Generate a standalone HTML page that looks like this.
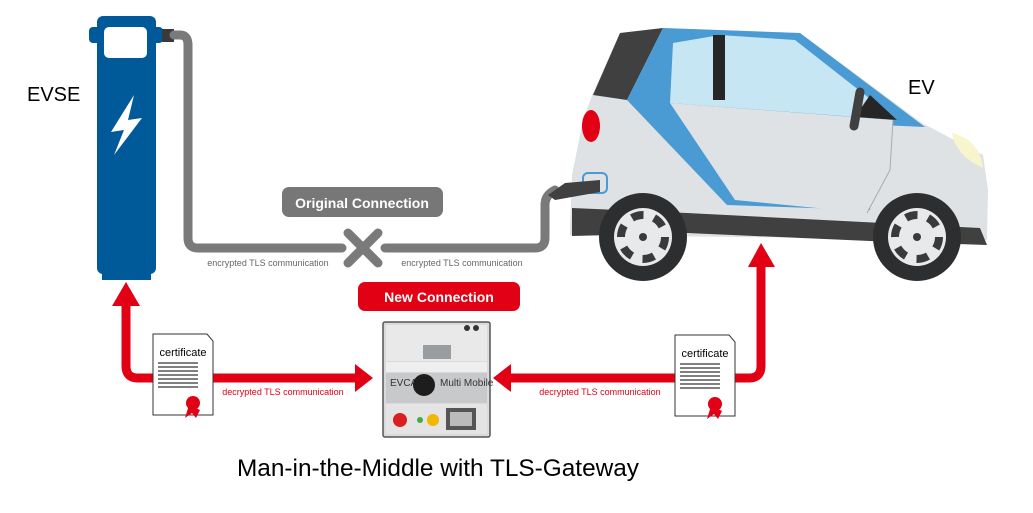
<!DOCTYPE html>
<html><head><meta charset="utf-8"><style>
html,body{margin:0;padding:0;background:#fff;}
svg{display:block;}
text{font-family:"Liberation Sans",sans-serif;}
</style></head><body>
<svg width="1033" height="513" viewBox="0 0 1033 513" xmlns="http://www.w3.org/2000/svg">
<!-- EVSE -->
<text x="27" y="101" font-size="20" fill="#000">EVSE</text>
<rect x="97" y="16" width="59" height="258" rx="6" fill="#005a9a"/>
<rect x="102" y="268" width="49" height="12" fill="#005a9a"/>
<rect x="89" y="27" width="74" height="16" rx="4" fill="#005a9a"/>
<rect x="104" y="27" width="43" height="31" rx="5" fill="#fff"/>
<polygon points="134,95 111,132 124,130 114,155 142,118 128,120" fill="#fff"/>
<!-- gray cable -->
<rect x="162" y="29" width="12" height="13" fill="#3a3a3a"/>
<path d="M174,35 H180 Q188,35 188,45 V238 Q188,248 198,248 H342" fill="none" stroke="#7a7a7a" stroke-width="9" stroke-linecap="round"/>
<path d="M385,248 H535 Q545,248 545,238 V205 Q545,195 555,190" fill="none" stroke="#7a7a7a" stroke-width="9" stroke-linecap="round"/>
<path d="M348,233 L378,263 M378,233 L348,263" stroke="#7a7a7a" stroke-width="9" stroke-linecap="round"/>
<rect x="282" y="187" width="161" height="30" rx="7" fill="#777"/>
<text x="362" y="208" font-size="14" font-weight="bold" fill="#fff" text-anchor="middle">Original Connection</text>
<text x="268" y="266" font-size="9" fill="#666" text-anchor="middle">encrypted TLS communication</text>
<text x="462" y="266" font-size="9" fill="#666" text-anchor="middle">encrypted TLS communication</text>
<!-- car -->
<path d="M570,227 L572,175 L583,120 L593,93 L620,33 L663,28 L800,33 L922,123 L983,155 L988,190 L987,240 L570,235 Z" fill="#dfe2e4"/>
<polygon points="620,33 663,28 627,100 593,95" fill="#404040"/>
<polygon points="663,28 800,33 925,127 880,125 870,210 727,205 627,100" fill="#4a9ad4"/>
<polygon points="673,43 720,35 795,40 897,120 670,103" fill="#c6e6f4"/>
<rect x="713" y="35" width="12" height="65" fill="#262626"/>
<polygon points="870,95 897,120 855,117" fill="#262626"/>
<path d="M670,103 L893,120 L890,170 L867,213 L735,200 Z" fill="#dfe2e4"/>
<path d="M893,120 L890,170 L867,213" fill="none" stroke="#aaa" stroke-width="1"/>
<line x1="860" y1="92" x2="854" y2="126" stroke="#404040" stroke-width="9" stroke-linecap="round"/>
<ellipse cx="591" cy="126" rx="9" ry="16" fill="#e10014"/>
<path d="M952,133 Q980,140 983,168 Q955,155 952,133 Z" fill="#f8f4cc"/>
<path d="M572,208 L687,213 L980,228 L987,245 L870,241 L687,233 L572,236 Z" fill="#404040"/>
<rect x="583" y="173" width="24" height="20" rx="5" fill="none" stroke="#4a9ad4" stroke-width="2"/>
<path d="M548,195 L565,183 L600,180 L600,192 L555,200 Z" fill="#404040"/>
<g>
<circle cx="643" cy="237" r="44" fill="#2d2e30"/><circle cx="643" cy="237" r="29" fill="#e8e9ea"/>
<circle cx="643" cy="237" r="22" fill="none" stroke="#3a3a3a" stroke-width="8" stroke-dasharray="12 11"/>
<circle cx="643" cy="237" r="4" fill="#3a3a3a"/>
<circle cx="917" cy="237" r="44" fill="#2d2e30"/><circle cx="917" cy="237" r="29" fill="#e8e9ea"/>
<circle cx="917" cy="237" r="22" fill="none" stroke="#3a3a3a" stroke-width="8" stroke-dasharray="12 11"/>
<circle cx="917" cy="237" r="4" fill="#3a3a3a"/>
</g>
<text x="908" y="94" font-size="20" fill="#000">EV</text>
<!-- red arrows -->
<path d="M126,302 V366 Q126,378 138,378 H358" fill="none" stroke="#e10014" stroke-width="9"/>
<polygon points="112,306 126,282 140,306" fill="#e10014"/>
<polygon points="355,364 373,378 355,392" fill="#e10014"/>
<path d="M510,378 H749 Q761,378 761,366 V264" fill="none" stroke="#e10014" stroke-width="9"/>
<polygon points="748,267 761,243 775,267" fill="#e10014"/>
<polygon points="511,364 493,378 511,392" fill="#e10014"/>
<text x="283" y="395" font-size="9" fill="#e10014" text-anchor="middle">decrypted TLS communication</text>
<text x="600" y="395" font-size="9" fill="#e10014" text-anchor="middle">decrypted TLS communication</text>
<!-- New Connection -->
<rect x="358" y="282" width="162" height="29" rx="7" fill="#e10014"/>
<text x="439" y="302" font-size="14" font-weight="bold" fill="#fff" text-anchor="middle">New Connection</text>
<!-- certificates -->
<g>
<path d="M153,334 H207 L213,341 V415 H153 Z" fill="#fff" stroke="#333" stroke-width="1"/>
<text x="183" y="356" font-size="11" fill="#000" text-anchor="middle">certificate</text>
<g stroke="#000" stroke-width="1"><line x1="158" y1="363" x2="198" y2="363"/><line x1="158" y1="367" x2="198" y2="367"/><line x1="158" y1="371" x2="198" y2="371"/><line x1="158" y1="375" x2="198" y2="375"/><line x1="158" y1="379" x2="198" y2="379"/><line x1="158" y1="383" x2="198" y2="383"/><line x1="158" y1="387" x2="198" y2="387"/></g>
<polygon points="189,405 185,418 192,413 196,418 200,410" fill="#e10014"/>
<circle cx="193" cy="403" r="7" fill="#e10014"/>
</g>
<g transform="translate(522,1)">
<path d="M153,334 H207 L213,341 V415 H153 Z" fill="#fff" stroke="#333" stroke-width="1"/>
<text x="183" y="356" font-size="11" fill="#000" text-anchor="middle">certificate</text>
<g stroke="#000" stroke-width="1"><line x1="158" y1="363" x2="198" y2="363"/><line x1="158" y1="367" x2="198" y2="367"/><line x1="158" y1="371" x2="198" y2="371"/><line x1="158" y1="375" x2="198" y2="375"/><line x1="158" y1="379" x2="198" y2="379"/><line x1="158" y1="383" x2="198" y2="383"/><line x1="158" y1="387" x2="198" y2="387"/></g>
<polygon points="189,405 185,418 192,413 196,418 200,410" fill="#e10014"/>
<circle cx="193" cy="403" r="7" fill="#e10014"/>
</g>
<!-- device -->
<rect x="383" y="322" width="107" height="115" rx="2" fill="#d9dadb" stroke="#555" stroke-width="1.5"/>
<rect x="386" y="325" width="101" height="36" fill="#e9e9e9"/>
<rect x="423" y="345" width="28" height="14" fill="#9a9d9f"/>
<circle cx="467" cy="328" r="3" fill="#333"/><circle cx="476" cy="328" r="3" fill="#333"/>
<rect x="386" y="362" width="101" height="10" fill="#eee"/>
<rect x="386" y="373" width="101" height="30" fill="#c8c9ca"/>
<text x="390" y="386" font-size="10" fill="#333">EVCA</text>
<text x="440" y="386" font-size="10" fill="#333">Multi Mobile</text>
<circle cx="424" cy="385" r="11" fill="#1d1d1d"/>
<rect x="386" y="404" width="101" height="30" fill="#e4e4e4"/>
<circle cx="400" cy="420" r="7" fill="#d82020"/>
<circle cx="433" cy="420" r="6" fill="#f0b800"/>
<circle cx="420" cy="420" r="3" fill="#4a4"/>
<rect x="446" y="408" width="30" height="22" fill="#555"/>
<rect x="450" y="412" width="22" height="14" fill="#bbb"/>
<text x="438" y="476" font-size="24" fill="#000" text-anchor="middle" textLength="402" lengthAdjust="spacingAndGlyphs">Man-in-the-Middle with TLS-Gateway</text>
</svg>
</body></html>
